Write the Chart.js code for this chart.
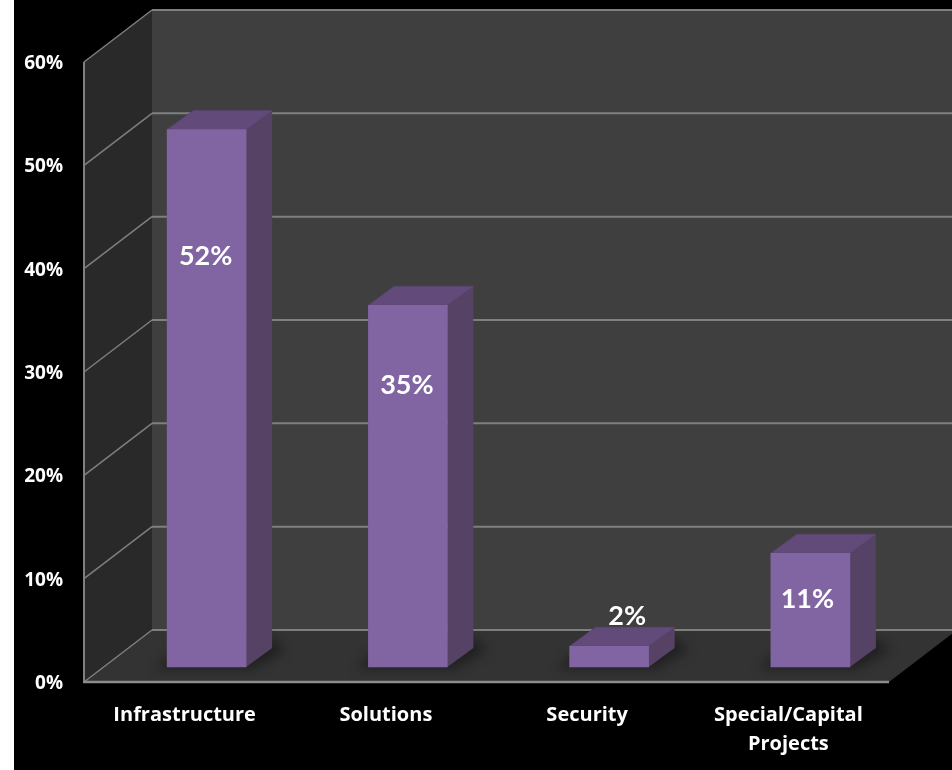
<!DOCTYPE html>
<html>
<head>
<meta charset="utf-8">
<title>Spend by category</title>
<script src="https://cdn.jsdelivr.net/npm/chart.js@4"></script>
<style>
    html, body { margin: 0; padding: 0; background: #000; overflow: hidden; }
    #strip { position: absolute; left: 0; top: 0; width: 14px; height: 770px; background: #fff; }
    canvas { position: absolute; left: 0; top: 0; }
</style>
</head>
<body>
<div id="strip"></div>
<canvas id="myChart" width="952" height="770"></canvas>
<script>
const categories = [['Infrastructure'], ['Solutions'], ['Security'], ['Special/Capital', 'Projects']];
const shares = [52, 35, 2, 11];
const valueLabels = ['52%', '35%', '2%', '11%'];

// Label placement relative to the bar's front top edge
const labelDrop = [127, 80, -30, 46];
const labelShift = [-1, -1, 18, -3];

// Depth of the room and of the bars, in pixels
const roomDepth = { x: 68, y: -52 };
const barDepth = { x: 26, y: -19 };
const barInset = { x: 22, y: -15 };

const fill = (ctx, color, pts) => {
    ctx.fillStyle = color;
    ctx.beginPath();
    pts.forEach((p, i) => i ? ctx.lineTo(p[0], p[1]) : ctx.moveTo(p[0], p[1]));
    ctx.closePath();
    ctx.fill();
};

const line = (ctx, color, width, x1, y1, x2, y2) => {
    ctx.strokeStyle = color;
    ctx.lineWidth = width;
    ctx.beginPath();
    ctx.moveTo(x1, y1);
    ctx.lineTo(x2, y2);
    ctx.stroke();
};

// Side wall, back wall, floor and gridlines
const roomPlugin = {
    id: 'room',
    beforeDatasetsDraw(chart) {
        const { ctx, chartArea: a, scales: { y } } = chart;
        const dx = roomDepth.x, dy = roomDepth.y;
        ctx.save();
        fill(ctx, '#3f3f3f', [[a.left + dx, a.top + dy], [952, a.top + dy], [952, a.bottom + dy], [a.left + dx, a.bottom + dy]]);
        fill(ctx, '#292929', [[a.left, a.top], [a.left + dx, a.top + dy], [a.left + dx, a.bottom + dy], [a.left, a.bottom]]);
        fill(ctx, '#333333', [[a.left, a.bottom], [a.right, a.bottom], [a.right + dx, a.bottom + dy], [a.left + dx, a.bottom + dy]]);

        y.ticks.forEach(t => {
            const py = y.getPixelForValue(t.value);
            line(ctx, '#7f7f7f', 1.5, a.left, py, a.left + dx, py + dy);
            line(ctx, '#7f7f7f', 2, a.left + dx, py + dy, 952, py + dy);
        });
        line(ctx, '#7f7f7f', 2, a.left, a.top, a.left, a.bottom + 1);
        line(ctx, '#8c8c8c', 2.5, a.left - 1, a.bottom, a.right, a.bottom);
        ctx.restore();
    }
};

// Extruded faces and floor shadow behind the library's bars
const barFacesPlugin = {
    id: 'barFaces',
    beforeDatasetsDraw(chart) {
        const { ctx } = chart;
        ctx.save();
        ctx.translate(barInset.x, barInset.y);
        chart.getDatasetMeta(0).data.forEach(bar => {
            const l = bar.x - bar.width / 2, r = bar.x + bar.width / 2;
            const t = bar.y, b = bar.base;
            const dx = barDepth.x, dy = barDepth.y;

            ctx.save();
            ctx.filter = 'blur(6px)';
            fill(ctx, 'rgba(0,0,0,0.38)', [[l - 12, b + 2], [r + 6, b + 2], [r + dx + 14, b + dy + 2], [r + dx, b + dy - 10], [l, b - 10]]);
            ctx.restore();

            ctx.lineJoin = 'round';
            ctx.lineWidth = 1;
            ctx.strokeStyle = '#5a4570';
            fill(ctx, '#564265', [[r, t], [r + dx, t + dy], [r + dx, b + dy], [r, b]]);
            fill(ctx, '#624b7b', [[l, t], [r, t], [r + dx, t + dy], [l + dx, t + dy]]);
            ctx.stroke();
        });
    },
    afterDatasetsDraw(chart) {
        chart.ctx.restore();
    }
};

const valueLabelPlugin = {
    id: 'valueLabels',
    afterDraw(chart) {
        const { ctx } = chart;
        ctx.save();
        ctx.font = 'bold 27px Lato';
        ctx.fillStyle = '#ffffff';
        ctx.textAlign = 'center';
        ctx.textBaseline = 'middle';
        chart.getDatasetMeta(0).data.forEach((bar, i) => {
            ctx.fillText(valueLabels[i], bar.x + barInset.x + labelShift[i], bar.y + barInset.y + labelDrop[i]);
        });
        ctx.restore();
    }
};

document.addEventListener('DOMContentLoaded', function () {
    const ctx = document.getElementById('myChart').getContext('2d');
    new Chart(ctx, {
        type: 'bar',
        data: {
            labels: categories,
            datasets: [{
                data: shares,
                backgroundColor: '#8165a3',
                barThickness: 79,
                clip: false
            }]
        },
        options: {
            responsive: false,
            animation: false,
            events: [],
            layout: { padding: { top: 62, right: 63, left: 0, bottom: 0 } },
            plugins: { legend: { display: false }, tooltip: { enabled: false } },
            scales: {
                x: {
                    grid: { display: false },
                    border: { display: false },
                    afterFit: s => { s.height = 88; },
                    ticks: {
                        color: '#ffffff',
                        padding: 11,
                        maxRotation: 0,
                        font: { family: 'Open Sans', weight: 'bold', size: 20, lineHeight: 1.45 }
                    }
                },
                y: {
                    min: 0,
                    max: 60,
                    grid: { display: false },
                    border: { display: false },
                    afterFit: s => { s.width = 84; },
                    ticks: {
                        stepSize: 10,
                        color: '#ffffff',
                        padding: 13,
                        labelOffset: 1.5,
                        callback: v => v + '%',
                        font: { family: 'Open Sans', weight: 'bold', size: 19 }
                    }
                }
            }
        },
        plugins: [roomPlugin, barFacesPlugin, valueLabelPlugin]
    });
});
</script>
</body>
</html>
